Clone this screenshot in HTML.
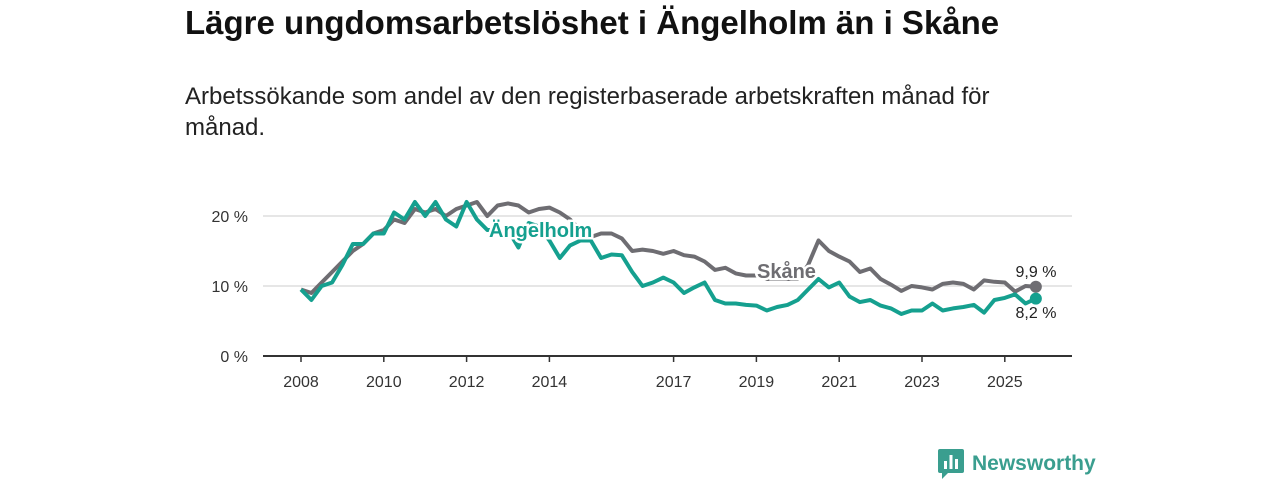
<!DOCTYPE html>
<html><head><meta charset="utf-8">
<style>
body{margin:0;width:1280px;height:480px;background:#fff;font-family:"Liberation Sans","DejaVu Sans",sans-serif;position:relative;overflow:hidden}
h1{position:absolute;left:185px;top:4px;margin:0;font-size:33px;font-weight:bold;color:#111;white-space:nowrap}
p{position:absolute;left:185px;top:81px;margin:0;font-size:24px;line-height:31px;color:#222;width:850px}
svg{position:absolute;left:0;top:0}
</style></head><body>
<h1>Lägre ungdomsarbetslöshet i Ängelholm än i Skåne</h1>
<p>Arbetssökande som andel av den registerbaserade arbetskraften månad för månad.</p>
<svg id="c" width="1280" height="480"></svg>
<script>
const startYear = 2008, step = 0.25;
const skane = [9.5,9,10.5,12, 13.5,15,16,17.5, 18,19.5,19,21, 20.5,21,20,21, 21.5,22,20,21.5, 21.8,21.5,20.5,21, 21.2,20.5,19.5,18, 17,17.5,17.5,16.8, 15,15.2,15,14.6, 15,14.4,14.2,13.5, 12.3,12.6,11.8,11.5, 11.5,11,11,11, 11,13,16.5,15, 14.2,13.5,12,12.5, 11,10.2,9.3,10, 9.8,9.5,10.3,10.5, 10.3,9.5,10.8,10.6, 10.5,9.2,10,9.9];
const angel = [9.5,8,10,10.5, 13,16,16,17.5, 17.5,20.5,19.5,22, 20,22,19.5,18.5, 22,19.5,18,18, 18,15.5,19,18.5, 16.5,14,15.8,16.5, 16.5,14,14.5,14.4, 12,10,10.5,11.2, 10.5,9,9.8,10.5, 8,7.5,7.5,7.3, 7.2,6.5,7,7.3, 8,9.5,11,9.8, 10.5,8.5,7.7,8, 7.2,6.8,6,6.5, 6.5,7.5,6.5,6.8, 7,7.3,6.2,8, 8.3,8.8,7.5,8.2];
const yTicks = [0,10,20];
const xTicks = [2008,2010,2012,2014,2017,2019,2021,2023,2025];
const svg = document.getElementById('c'), NS='http://www.w3.org/2000/svg';
const X = t => 301 + (t-2008)*41.4;
const Y = v => 356 - v*7;
function mk(tag, attrs, parent){const e=document.createElementNS(NS,tag);for(const k in attrs)e.setAttribute(k,attrs[k]);(parent||svg).appendChild(e);return e;}
yTicks.forEach(v=>{
  const l=mk('line',{x1:263,x2:1072,y1:Y(v),y2:Y(v),stroke:v?'#ddd':'#333','stroke-width':v?1.5:2});
  
  
  const t=mk('text',{x:248,y:Y(v)+6,'text-anchor':'end','font-size':16,fill:'#333'});
  t.textContent=v+' %';
  
  
});
xTicks.forEach(yr=>{
  const l=mk('line',{x1:X(yr),x2:X(yr),y1:356,y2:362,stroke:'#333','stroke-width':1.5});
  
  
  const t=mk('text',{x:X(yr),y:387,'text-anchor':'middle','font-size':16,fill:'#333'});
  t.textContent=yr;
  
  
});
function line(data,color,name){
  const d=data.map((v,i)=>(i?'L':'M')+X(startYear+i*step).toFixed(1)+','+Y(v).toFixed(1)).join('');
  const p=mk('path',{d:d,fill:'none',stroke:color,'stroke-width':4,'stroke-linejoin':'round'});
  
  
  const last=data.length-1;
  const c=mk('circle',{cx:X(startYear+last*step),cy:Y(data[last]),r:6,fill:color});
  
  
}
line(skane,'#6e6d72','skane-line');
line(angel,'#15a08f','angelholm-line');
function lab(txt,x,y,col,name,size,w,anchor){
  const t=mk('text',{x:x,y:y,'font-size':size,'font-weight':w,fill:col,stroke:'#fff','stroke-width':5,'paint-order':'stroke','text-anchor':anchor||'start'});
  t.textContent=txt;
  
  
}
lab('Ängelholm',489,237,'#15a08f','angelholm-label',20,'bold');
lab('Skåne',757,278,'#6e6d72','skane-label',20,'bold');
lab('9,9 %',1036,277,'#222','skane-end-value',16,'normal','middle');
lab('8,2 %',1036,318,'#222','angelholm-end-value',16,'normal','middle');
</script>
<div style="position:absolute;left:938px;top:449px;display:flex;align-items:center">
<svg width="26" height="30" style="position:static"><rect x="0" y="0" width="26" height="24" rx="2" fill="#3a9e8f"/><path d="M4 24 L4 30 L10 24Z" fill="#3a9e8f"/><rect x="6" y="12" width="3" height="8" fill="#fff"/><rect x="11.5" y="6" width="3" height="14" fill="#fff"/><rect x="17" y="10" width="3" height="10" fill="#fff"/></svg>
<span style="margin-left:8px;font-size:21px;font-weight:bold;color:#3a9e8f">Newsworthy</span></div>
</body></html>
